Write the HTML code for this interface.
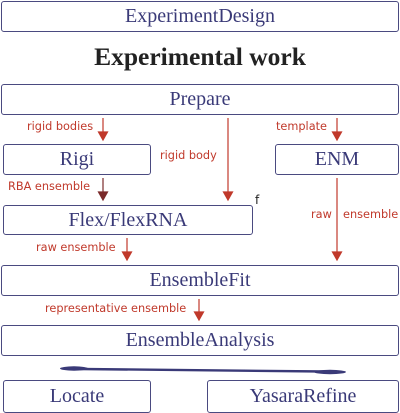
<!DOCTYPE html>
<html><head><style>
body{margin:0;width:400px;height:413px;background:#fff;position:relative;overflow:hidden}
.b{position:absolute;box-sizing:border-box;border:1.5px solid #4a4a80;border-radius:3px;font-family:"Liberation Serif",serif;color:#3a3a78;font-size:20px;text-align:center}
.l{position:absolute;font-family:"DejaVu Sans","Liberation Sans",sans-serif;font-size:11.3px;color:#c0392b;white-space:nowrap}
</style></head><body>
<div class="b" style="left:1px;top:1px;width:398px;height:31px;line-height:29px">ExperimentDesign</div>
<div style="position:absolute;left:0;width:400px;top:42px;text-align:center;font-family:'Liberation Serif',serif;font-weight:bold;font-size:25.5px;color:#222">Experimental work</div>
<div class="b" style="left:1px;top:84px;width:398px;height:31px;line-height:29px">Prepare</div>
<div class="b" style="left:3px;top:144px;width:148px;height:31px;line-height:29px">Rigi</div>
<div class="b" style="left:275px;top:144px;width:124px;height:31px;line-height:29px">ENM</div>
<div class="b" style="left:3px;top:205px;width:250px;height:30px;line-height:28px">Flex/FlexRNA</div>
<div class="b" style="left:1px;top:265px;width:398px;height:31px;line-height:29px">EnsembleFit</div>
<div class="b" style="left:1px;top:325px;width:398px;height:31px;line-height:29px">EnsembleAnalysis</div>
<div class="b" style="left:3px;top:380px;width:148px;height:33px;line-height:31px">Locate</div>
<div class="b" style="left:207px;top:380px;width:192px;height:33px;line-height:31px">YasaraRefine</div>
<div class="l" style="left:27px;top:120px">rigid bodies</div>
<div class="l" style="left:160px;top:149px">rigid body</div>
<div class="l" style="left:276px;top:120px">template</div>
<div class="l" style="left:8px;top:180px">RBA ensemble</div>
<div class="l" style="left:311px;top:208px">raw</div>
<div class="l" style="left:343px;top:208px">ensemble</div>
<div class="l" style="left:36px;top:241px">raw ensemble</div>
<div class="l" style="left:45px;top:302px">representative ensemble</div>
<div style="position:absolute;left:255px;top:193px;font-family:'DejaVu Sans',sans-serif;font-size:12px;color:#222">f</div>
<svg width="400" height="413" style="position:absolute;left:0;top:0">
<g stroke="#c0392b" stroke-width="1.2" fill="#c0392b">
<line x1="103" y1="118" x2="103" y2="133"/><polygon points="98.5,132 107.5,132 103,140"/>
<line x1="228" y1="118" x2="228" y2="193"/><polygon points="223.5,192 232.5,192 228,200"/>
<line x1="337" y1="118" x2="337" y2="133"/><polygon points="332.5,132 341.5,132 337,140"/>
<line x1="337" y1="178" x2="337" y2="253"/><polygon points="332.5,252 341.5,252 337,260"/>
<line x1="127" y1="238" x2="127" y2="253"/><polygon points="122.5,252 131.5,252 127,260"/>
<line x1="199" y1="299" x2="199" y2="313"/><polygon points="194.5,312 203.5,312 199,320"/>
</g>
<g stroke="#7a2a2a" stroke-width="1.2" fill="#7a2a2a">
<line x1="103" y1="178" x2="103" y2="193"/><polygon points="98.5,192 107.5,192 103,200"/>
</g>
<ellipse cx="74" cy="368.5" rx="14" ry="2.2" fill="#3a3a78"/>
<ellipse cx="330" cy="372" rx="16" ry="2.2" fill="#3a3a78"/>
<line x1="80" y1="369" x2="325" y2="371.5" stroke="#3a3a78" stroke-width="2.4"/>
</svg>
</body></html>
